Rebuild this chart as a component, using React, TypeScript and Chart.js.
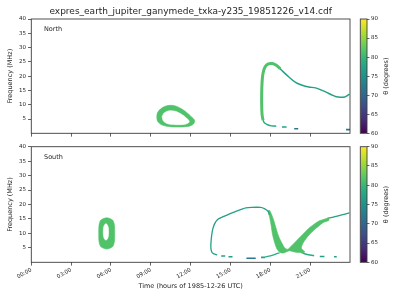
import React, { useEffect, useRef } from 'react';
import { Chart, registerables } from 'chart.js';
Chart.register(...registerables);

// ---------- data ----------
const TITLE = 'expres_earth_jupiter_ganymede_txka-y235_19851226_v14.cdf';
const X_TICKS = [0, 3, 6, 9, 12, 15, 18, 21];
const X_TICK_LABELS = ['00:00', '03:00', '06:00', '09:00', '12:00', '15:00', '18:00', '21:00'];
const X_RANGE = [0, 24];
const Y_TICKS = [5, 10, 15, 20, 25, 30, 35, 40];
const Y_RANGE = [0, 40];
const CB_TICKS = [60, 65, 70, 75, 80, 85, 90];
const CB_RANGE = [60, 90];
const VIRIDIS = ['#440154', '#472d7b', '#3b528b', '#2c728e', '#21918c', '#28ae80', '#5ec962', '#addc30', '#fde725'];

// theta (degrees) of each family of emission
const THETA_BAND = 81.5;
const THETA_THIN = 77;
const THETA_MID = 78.5;
const THETA_LOW = 72;

// North hemisphere: [hour, MHz]
const NORTH_LOOP_OUTER = [[9.45, 5.8], [9.5, 7.2], [9.75, 8.6], [10.1, 9.5], [10.5, 9.8], [10.9, 9.5], [11.3, 8.6], [11.7, 7.3], [12.05, 5.8], [12.3, 4.5], [12.2, 3.2], [11.8, 2.4], [11.0, 2.2], [10.3, 2.4], [9.8, 3.0], [9.5, 4.3], [9.45, 5.8]];
const NORTH_LOOP_INNER = [[9.85, 5.8], [10.0, 7.1], [10.4, 7.9], [10.85, 7.7], [11.3, 6.7], [11.7, 5.3], [11.9, 4.0], [11.6, 3.2], [10.9, 3.0], [10.3, 3.3], [9.95, 4.3], [9.85, 5.8]];
const NORTH_ARC_RISE = [[17.45, 4.6], [17.38, 6.5], [17.35, 10], [17.35, 14], [17.38, 18], [17.45, 21], [17.6, 23.2], [17.85, 24.3], [18.15, 24.4], [18.45, 23.8], [18.75, 22.6]];
const NORTH_ARC_TAIL = [[18.6, 23.3], [19.0, 21.4], [19.4, 19.7], [19.9, 17.8], [20.4, 16.8], [20.9, 16.2], [21.4, 15.9], [21.8, 15.2], [22.2, 14.4], [22.6, 13.5], [22.9, 12.9], [23.3, 12.6], [23.6, 12.7], [23.8, 13.2], [23.95, 13.7]];
const NORTH_ARC_FOOT = [[17.45, 4.6], [17.55, 3.7], [17.8, 3.0], [18.1, 2.6], [18.45, 2.5]];
const NORTH_DASHES = [[19.05, 2.2], [19.95, 1.6], [23.85, 1.3]];
const NORTH_DASH_THETA = [THETA_THIN, THETA_LOW, THETA_LOW];

// South hemisphere: [hour, MHz]
const SOUTH_RING_OUTER = [[6.28, 10.0], [6.26, 12.8], [6.12, 14.6], [5.68, 15.4], [5.24, 14.6], [5.1, 12.8], [5.08, 10.0], [5.1, 7.2], [5.24, 5.4], [5.68, 4.6], [6.12, 5.4], [6.26, 7.2], [6.28, 10.0]];
const SOUTH_RING_INNER = [[5.82, 10.5], [5.8, 12.0], [5.72, 13.0], [5.62, 13.3], [5.52, 13.0], [5.44, 12.0], [5.42, 10.5], [5.44, 9.0], [5.52, 8.0], [5.62, 7.7], [5.72, 8.0], [5.8, 9.0], [5.82, 10.5]];
const SOUTH_LOOP_THIN = [[14.0, 2.6], [13.75, 2.9], [13.6, 3.5], [13.52, 5.0], [13.55, 8.0], [13.65, 11.2], [13.8, 13.3], [14.05, 14.9], [14.5, 15.9], [14.9, 16.7], [15.5, 17.8], [16.16, 18.8], [16.6, 19.0], [17.25, 19.0], [17.55, 18.6], [17.8, 17.8], [17.95, 16.5]];
const SOUTH_BAND_LEFT = [[17.8, 18.0], [17.95, 15.5], [18.05, 13.0], [18.15, 10.0], [18.25, 8.0], [18.35, 6.4], [18.5, 4.6], [18.7, 3.5], [18.95, 3.2], [19.2, 3.6], [19.45, 4.2], [19.1, 4.9], [18.9, 6.4], [18.7, 8.2], [18.55, 10.0], [18.4, 12.3], [18.25, 14.6], [18.1, 16.5], [17.95, 18.0]];
const SOUTH_BAND_RIGHT = [[19.3, 4.3], [19.53, 5.4], [19.9, 7.1], [20.28, 8.9], [20.6, 10.4], [20.9, 11.8], [21.3, 13.2], [21.66, 14.3], [22.0, 14.8], [22.4, 15.3], [22.4, 14.5], [22.0, 13.8], [21.66, 12.6], [21.3, 11.2], [20.9, 9.4], [20.6, 7.6], [20.4, 6.0], [20.35, 4.8], [20.6, 3.6], [20.2, 3.4], [19.8, 3.6], [19.45, 4.0]];
const SOUTH_TAIL_RIGHT = [[22.3, 15.2], [22.8, 15.7], [23.3, 16.3], [23.95, 17.1]];
const SOUTH_LOWER_RIGHT = [[20.3, 3.5], [20.7, 2.8], [21.3, 2.3]];
const SOUTH_FOOT = [[17.6, 1.9], [18.0, 2.2], [18.4, 2.8], [18.7, 3.3]];
const SOUTH_DASHES = [[14.45, 2.2], [15.0, 1.9], [16.55, 1.4], [17.45, 1.7], [21.9, 2.0], [22.9, 1.9]];
const SOUTH_DASH_LEN = [0.3, 0.3, 0.7, 0.3, 0.35, 0.2];
const SOUTH_DASH_THETA = [THETA_THIN, THETA_THIN, THETA_LOW, THETA_THIN, THETA_THIN, THETA_THIN];

// ---------- layout / style ----------
const FONT = '"DejaVu Sans", sans-serif';
const L = { left: 31.3, right: 350, nTop: 19, nBot: 133.3, sTop: 146.7, sBot: 262.3, cbLeft: 360.3, cbRight: 367 };
const INK = '#262626';
const FRAME = '#3c3c3c';

function hexToRgb(h: string) {
  return [parseInt(h.slice(1, 3), 16), parseInt(h.slice(3, 5), 16), parseInt(h.slice(5, 7), 16)];
}
function viridis(theta: number) {
  let t = (theta - CB_RANGE[0]) / (CB_RANGE[1] - CB_RANGE[0]);
  t = Math.max(0, Math.min(1, t));
  const n = VIRIDIS.length - 1;
  const i = Math.min(n - 1, Math.floor(t * n));
  const f = t * n - i;
  const a = hexToRgb(VIRIDIS[i]);
  const b = hexToRgb(VIRIDIS[i + 1]);
  const c = a.map((v, k) => Math.round(v + (b[k] - v) * f));
  return `rgb(${c[0]},${c[1]},${c[2]})`;
}

const pts = (arr: number[][]) => arr.map(([x, y]) => ({ x, y }));

function poly(arr: number[][], color: string, order = 1) {
  return {
    data: pts(arr), showLine: true, fill: 'shape', backgroundColor: color, borderColor: color,
    borderWidth: 0.6, pointRadius: 0, tension: 0.3, order,
  };
}
function line(arr: number[][], color: string, width: number) {
  return {
    data: pts(arr), showLine: true, fill: false, borderColor: color, borderWidth: width,
    pointRadius: 0, tension: 0.3, order: 1, borderCapStyle: 'butt',
  };
}
function dashes(arr: number[][], thetas: number[], lens: number[]) {
  const pxPerHour = (L.right - L.left) / (X_RANGE[1] - X_RANGE[0]);
  return {
    data: pts(arr), showLine: false, pointStyle: 'line',
    pointRadius: lens.map((l) => (l * pxPerHour) / 2),
    pointBorderWidth: 1.6,
    pointBorderColor: thetas.map(viridis),
    pointBackgroundColor: thetas.map(viridis),
    order: 1,
  };
}

function northDatasets() {
  const band = viridis(THETA_BAND);
  return [
    poly(NORTH_LOOP_INNER, '#ffffff', 0),
    poly(NORTH_LOOP_OUTER, band),
    line(NORTH_ARC_RISE, band, 3.0),
    line(NORTH_ARC_TAIL, viridis(THETA_THIN), 1.5),
    line(NORTH_ARC_FOOT, viridis(THETA_MID), 1.5),
    dashes(NORTH_DASHES, NORTH_DASH_THETA, [0.35, 0.3, 0.3]),
  ];
}
function southDatasets() {
  const band = viridis(THETA_BAND);
  return [
    poly(SOUTH_RING_INNER, '#ffffff', 0),
    poly(SOUTH_RING_OUTER, band),
    line(SOUTH_LOOP_THIN, viridis(THETA_THIN), 1.3),
    poly(SOUTH_BAND_LEFT, band),
    poly(SOUTH_BAND_RIGHT, band),
    line(SOUTH_TAIL_RIGHT, viridis(THETA_THIN), 1.3),
    line(SOUTH_LOWER_RIGHT, viridis(THETA_MID), 1.5),
    line(SOUTH_FOOT, viridis(THETA_MID), 1.3),
    dashes(SOUTH_DASHES, SOUTH_DASH_THETA, SOUTH_DASH_LEN),
  ];
}

const framePlugin = {
  id: 'frame',
  afterDraw(chart: any) {
    const { ctx, chartArea: a } = chart;
    ctx.save();
    ctx.strokeStyle = FRAME;
    ctx.lineWidth = 0.9;
    ctx.strokeRect(a.left, a.top, a.right - a.left, a.bottom - a.top);
    ctx.restore();
  },
};

type TextItem = { text: string; x: number; y: number; size: number; align?: CanvasTextAlign; rot?: number };
function textPlugin(items: TextItem[]) {
  return {
    id: 'texts',
    afterDraw(chart: any) {
      const { ctx } = chart;
      for (const it of items) {
        ctx.save();
        ctx.font = `${it.size}px ${FONT}`;
        ctx.fillStyle = INK;
        ctx.textAlign = it.align || 'center';
        ctx.textBaseline = 'middle';
        ctx.translate(it.x, it.y);
        if (it.rot) ctx.rotate(it.rot);
        ctx.fillText(it.text, 0, 0);
        ctx.restore();
      }
    },
  };
}

function mainConfig(isN: boolean): any {
  const top = isN ? L.nTop : L.sTop;
  const bottom = isN ? L.nBot : L.sBot;
  const xH = isN ? 6 : 300 - L.sBot;
  const texts: TextItem[] = [
    { text: isN ? 'North' : 'South', x: L.left + 12.7, y: top + 10.3, size: 6.5, align: 'left' },
  ];
  if (isN) texts.push({ text: TITLE, x: (L.left + L.right) / 2, y: 11.2, size: 9 });
  return {
    type: 'scatter',
    data: { datasets: isN ? northDatasets() : southDatasets() },
    options: {
      animation: false, responsive: false, events: [],
      layout: { padding: { left: 0, top, right: 400 - L.right, bottom: 300 - bottom - xH } },
      plugins: { legend: { display: false }, tooltip: { enabled: false } },
      scales: {
        x: {
          type: 'linear', min: X_RANGE[0], max: X_RANGE[1],
          afterBuildTicks: (s: any) => { s.ticks = X_TICKS.map((v) => ({ value: v })); },
          afterFit: (s: any) => { s.height = xH; },
          grid: { drawOnChartArea: false, drawTicks: true, tickLength: 3.3, color: FRAME, lineWidth: 0.8 },
          border: { display: false },
          ticks: {
            display: !isN, autoSkip: false, minRotation: 30, maxRotation: 30, padding: 1,
            font: { family: FONT, size: 5.5 }, color: INK,
            callback: (v: number) => X_TICK_LABELS[X_TICKS.indexOf(v)] ?? '',
          },
          title: {
            display: !isN, text: 'Time (hours of 1985-12-26 UTC)', color: INK,
            font: { family: FONT, size: 6.5 }, padding: { top: 0, bottom: 9.4 },
          },
        },
        y: {
          type: 'linear', min: Y_RANGE[0], max: Y_RANGE[1],
          afterBuildTicks: (s: any) => { s.ticks = Y_TICKS.map((v) => ({ value: v })); },
          afterFit: (s: any) => { s.width = L.left; },
          grid: { drawOnChartArea: false, drawTicks: true, tickLength: 3.3, color: FRAME, lineWidth: 0.8 },
          border: { display: false },
          ticks: {
            font: { family: FONT, size: 5.5 }, color: INK, padding: 2,
            callback: (v: number) => String(Y_TICKS[Y_TICKS.indexOf(v)] ?? ''),
          },
          title: {
            display: true, text: 'Frequency (MHz)', color: INK,
            font: { family: FONT, size: 6.5 }, padding: { top: 6.1, bottom: 0 },
          },
        },
      },
    },
    plugins: [framePlugin, textPlugin(texts)],
  };
}

function cbConfig(top: number, bottom: number): any {
  const yW = 400 - L.cbRight;
  const gradient = (ctx: any) => {
    const chart = ctx.chart;
    const a = chart.chartArea;
    if (!a) return viridis(75);
    const g = chart.ctx.createLinearGradient(0, a.bottom, 0, a.top);
    VIRIDIS.forEach((c, i) => g.addColorStop(i / (VIRIDIS.length - 1), c));
    return g;
  };
  return {
    type: 'bar',
    data: {
      labels: ['θ'],
      datasets: [{
        data: [[CB_RANGE[0], CB_RANGE[1]]], backgroundColor: gradient, borderWidth: 0,
        barPercentage: 1, categoryPercentage: 1, inflateAmount: 0,
      }],
    },
    options: {
      animation: false, responsive: false, events: [],
      layout: { padding: { left: L.cbLeft, right: 0, top, bottom: 300 - bottom } },
      plugins: { legend: { display: false }, tooltip: { enabled: false } },
      scales: {
        x: { display: false },
        y: {
          position: 'right', min: CB_RANGE[0], max: CB_RANGE[1],
          afterBuildTicks: (s: any) => { s.ticks = CB_TICKS.map((v) => ({ value: v })); },
          afterFit: (s: any) => { s.width = yW; },
          grid: { drawOnChartArea: false, drawTicks: true, tickLength: 2.5, color: FRAME, lineWidth: 0.8 },
          border: { display: false },
          ticks: {
            font: { family: FONT, size: 5.5 }, color: INK, padding: 1.5,
            callback: (v: number) => String(CB_TICKS[CB_TICKS.indexOf(v)] ?? ''),
          },
        },
      },
    },
    plugins: [
      framePlugin,
      textPlugin([{ text: 'θ (degrees)', x: 386.7, y: (top + bottom) / 2, size: 6.5, rot: -Math.PI / 2 }]),
    ],
  };
}

export default function App() {
  const r1 = useRef<HTMLCanvasElement>(null);
  const r2 = useRef<HTMLCanvasElement>(null);
  const r3 = useRef<HTMLCanvasElement>(null);
  const r4 = useRef<HTMLCanvasElement>(null);
  useEffect(() => {
    const charts = [
      new Chart(r1.current!, mainConfig(true)),
      new Chart(r2.current!, mainConfig(false)),
      new Chart(r3.current!, cbConfig(L.nTop, L.nBot)),
      new Chart(r4.current!, cbConfig(L.sTop, L.sBot)),
    ];
    return () => charts.forEach((c) => c.destroy());
  }, []);
  const st: React.CSSProperties = { position: 'absolute', left: 0, top: 0, width: 400, height: 300 };
  return (
    <div style={{ position: 'fixed', left: 0, top: 0, width: 400, height: 300, background: '#ffffff' }}>
      <canvas ref={r1} width={400} height={300} style={st} />
      <canvas ref={r2} width={400} height={300} style={st} />
      <canvas ref={r3} width={400} height={300} style={st} />
      <canvas ref={r4} width={400} height={300} style={st} />
    </div>
  );
}
